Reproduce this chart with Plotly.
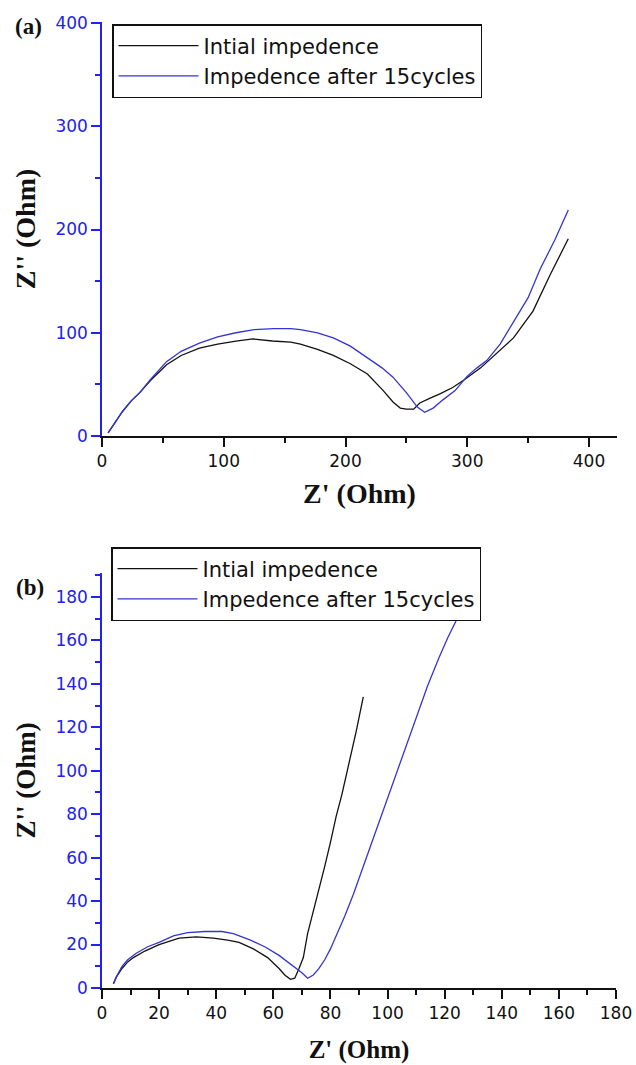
import plotly.graph_objects as go

W, H = 636, 1065

# ---------- data: panel (a) ----------
a_init_x = [5, 8, 12, 17, 24, 31, 40, 53, 65, 80, 95, 110, 124, 140, 155, 163, 177, 190, 204, 218,
            231, 239, 245, 250, 256, 261, 270, 278, 288, 297, 311, 327, 338, 354, 368, 383]
a_init_y = [3, 8, 15, 24, 34, 42, 54, 69, 78, 85, 89, 92, 94, 92, 91, 89, 84, 78, 70, 60,
            44, 33, 27, 26, 26, 32, 37, 41, 47, 54, 66, 83, 95, 121, 156, 191]
a_cyc_x = [5, 8, 12, 17, 24, 31, 40, 53, 65, 80, 95, 110, 125, 141, 155, 163, 177, 190, 204, 218,
           230, 239, 250, 259, 265, 272, 280, 290, 300, 308, 316, 327, 338, 350, 360, 372, 383]
a_cyc_y = [3, 8, 15, 24, 34, 42, 55, 72, 82, 90, 96, 100, 103, 104, 104, 103, 100, 95, 87, 76,
           66, 57, 42, 28, 23, 27, 35, 44, 58, 66, 73, 89, 110, 134, 162, 190, 219]

# ---------- data: panel (b) ----------
b_init_x = [4, 5, 7, 9, 11, 15, 20, 27, 33, 39, 44, 48, 53, 58, 62, 64, 66, 67.5, 69, 70.5,
            72, 74, 76, 78, 80, 82, 84, 87, 89, 91.5]
b_init_y = [2, 5, 9, 12, 14, 17, 20, 23, 23.5, 23, 22, 21, 18, 14, 9, 6, 4, 4.5, 9, 14,
            25, 35, 45, 56, 67, 79, 89, 106, 118, 134]
b_cyc_x = [4, 5, 7, 9, 12, 16, 20, 25, 30, 36, 42, 46, 52, 57, 62, 67, 70, 72, 74, 76, 78,
           80, 82, 85, 88, 91, 94, 97, 100, 104, 107, 110, 114, 118, 121, 124]
b_cyc_y = [2, 5, 10, 13, 16, 19, 21, 24, 25.5, 26, 26, 25, 22, 19, 15, 10, 7, 4.5, 6, 9, 13,
           18, 24, 33, 43, 54, 65, 77, 88, 102, 113, 124, 139, 152, 161, 169]

names = ["Intial impedence", "Impedence after 15cycles"]
a_xticks = [0, 100, 200, 300, 400]
a_yticks = [0, 100, 200, 300, 400]
b_xticks = [0, 20, 40, 60, 80, 100, 120, 140, 160, 180]
b_yticks = [0, 20, 40, 60, 80, 100, 120, 140, 160, 180]

BLACK = "#111111"
BLUE_LINE = "#3434d0"
BLUE_AX = "#2222ee"
TICKFONT = dict(family="DejaVu Sans", size=17)


def tfont(size):
    return dict(family="Liberation Serif", size=size, color="#111111", weight="bold")


fig = go.Figure()
fig.add_trace(go.Scatter(x=a_init_x, y=a_init_y, mode="lines", name=names[0],
                         line=dict(color=BLACK, width=1.3), xaxis="x", yaxis="y", legend="legend"))
fig.add_trace(go.Scatter(x=a_cyc_x, y=a_cyc_y, mode="lines", name=names[1],
                         line=dict(color=BLUE_LINE, width=1.3), xaxis="x", yaxis="y", legend="legend"))
fig.add_trace(go.Scatter(x=b_init_x, y=b_init_y, mode="lines", name=names[0],
                         line=dict(color=BLACK, width=1.3), xaxis="x2", yaxis="y2", legend="legend2"))
fig.add_trace(go.Scatter(x=b_cyc_x, y=b_cyc_y, mode="lines", name=names[1],
                         line=dict(color=BLUE_LINE, width=1.3), xaxis="x2", yaxis="y2", legend="legend2"))


def xax(domain, rng, ticks, minor_d, anchor, tsize, standoff):
    return dict(domain=domain, range=rng, anchor=anchor, showline=True, linecolor=BLACK, linewidth=1.5,
                ticks="outside", ticklen=9, tickwidth=1.5, tickcolor=BLACK, automargin=False,
                tickvals=ticks, ticktext=[str(t) for t in ticks],
                minor=dict(dtick=minor_d, tick0=0, ticks="outside", ticklen=5, tickwidth=1.5, tickcolor=BLACK),
                tickfont=dict(**TICKFONT, color=BLACK), showgrid=False, zeroline=False,
                title=dict(text="Z' (Ohm)", font=tfont(tsize), standoff=standoff))


def yax(domain, rng, ticks, minor_d, anchor, tsize):
    return dict(domain=domain, range=rng, anchor=anchor, showline=True, linecolor=BLUE_AX, linewidth=1.5,
                ticks="outside", ticklen=9, tickwidth=1.5, tickcolor=BLUE_AX, automargin=False,
                tickvals=ticks, ticktext=[str(t) for t in ticks],
                minor=dict(dtick=minor_d, tick0=0, ticks="outside", ticklen=5, tickwidth=1.5, tickcolor=BLUE_AX),
                tickfont=dict(**TICKFONT, color=BLUE_AX), showgrid=False, zeroline=False,
                title=dict(text="Z'' (Ohm)", font=tfont(tsize), standoff=12))


LEGFONT = dict(family="DejaVu Sans", size=21, color=BLACK)

fig.update_layout(
    width=W, height=H, margin=dict(l=0, r=0, t=0, b=0, pad=0, autoexpand=False),
    paper_bgcolor="white", plot_bgcolor="white",
    xaxis=xax([102 / W, 617 / W], [0, 423], a_xticks, 50, "y", 28, 13),
    yaxis=yax([(H - 436) / H, (H - 22) / H], [0, 401], a_yticks, 50, "x", 28),
    xaxis2=xax([102 / W, 616 / W], [0, 180], b_xticks, 10, "y2", 25, 18),
    yaxis2=yax([(H - 988) / H, (H - 573) / H], [0, 191], b_yticks, 10, "x2", 27),
    legend=dict(x=112 / W, y=1 - 24 / H, xanchor="left", yanchor="top", bgcolor="white",
                bordercolor=BLACK, borderwidth=1.5, font=LEGFONT, itemwidth=80, tracegroupgap=0),
    legend2=dict(x=111 / W, y=1 - 547 / H, xanchor="left", yanchor="top", bgcolor="white",
                 bordercolor=BLACK, borderwidth=1.5, font=LEGFONT, itemwidth=80, tracegroupgap=0),
    showlegend=True,
    annotations=[
        dict(text="(a)", x=29 / W, y=1 - 27 / H, xref="paper", yref="paper", showarrow=False,
             xanchor="center", yanchor="middle",
             font=dict(family="Liberation Serif", size=23, color=BLACK, weight="bold")),
        dict(text="(b)", x=30 / W, y=1 - 587 / H, xref="paper", yref="paper", showarrow=False,
             xanchor="center", yanchor="middle",
             font=dict(family="Liberation Serif", size=23, color=BLACK, weight="bold")),
    ],
)

fig.write_html("out.html", config={"displayModeBar": False},
               post_script="document.body.style.margin='0';document.body.style.overflow='hidden';")
